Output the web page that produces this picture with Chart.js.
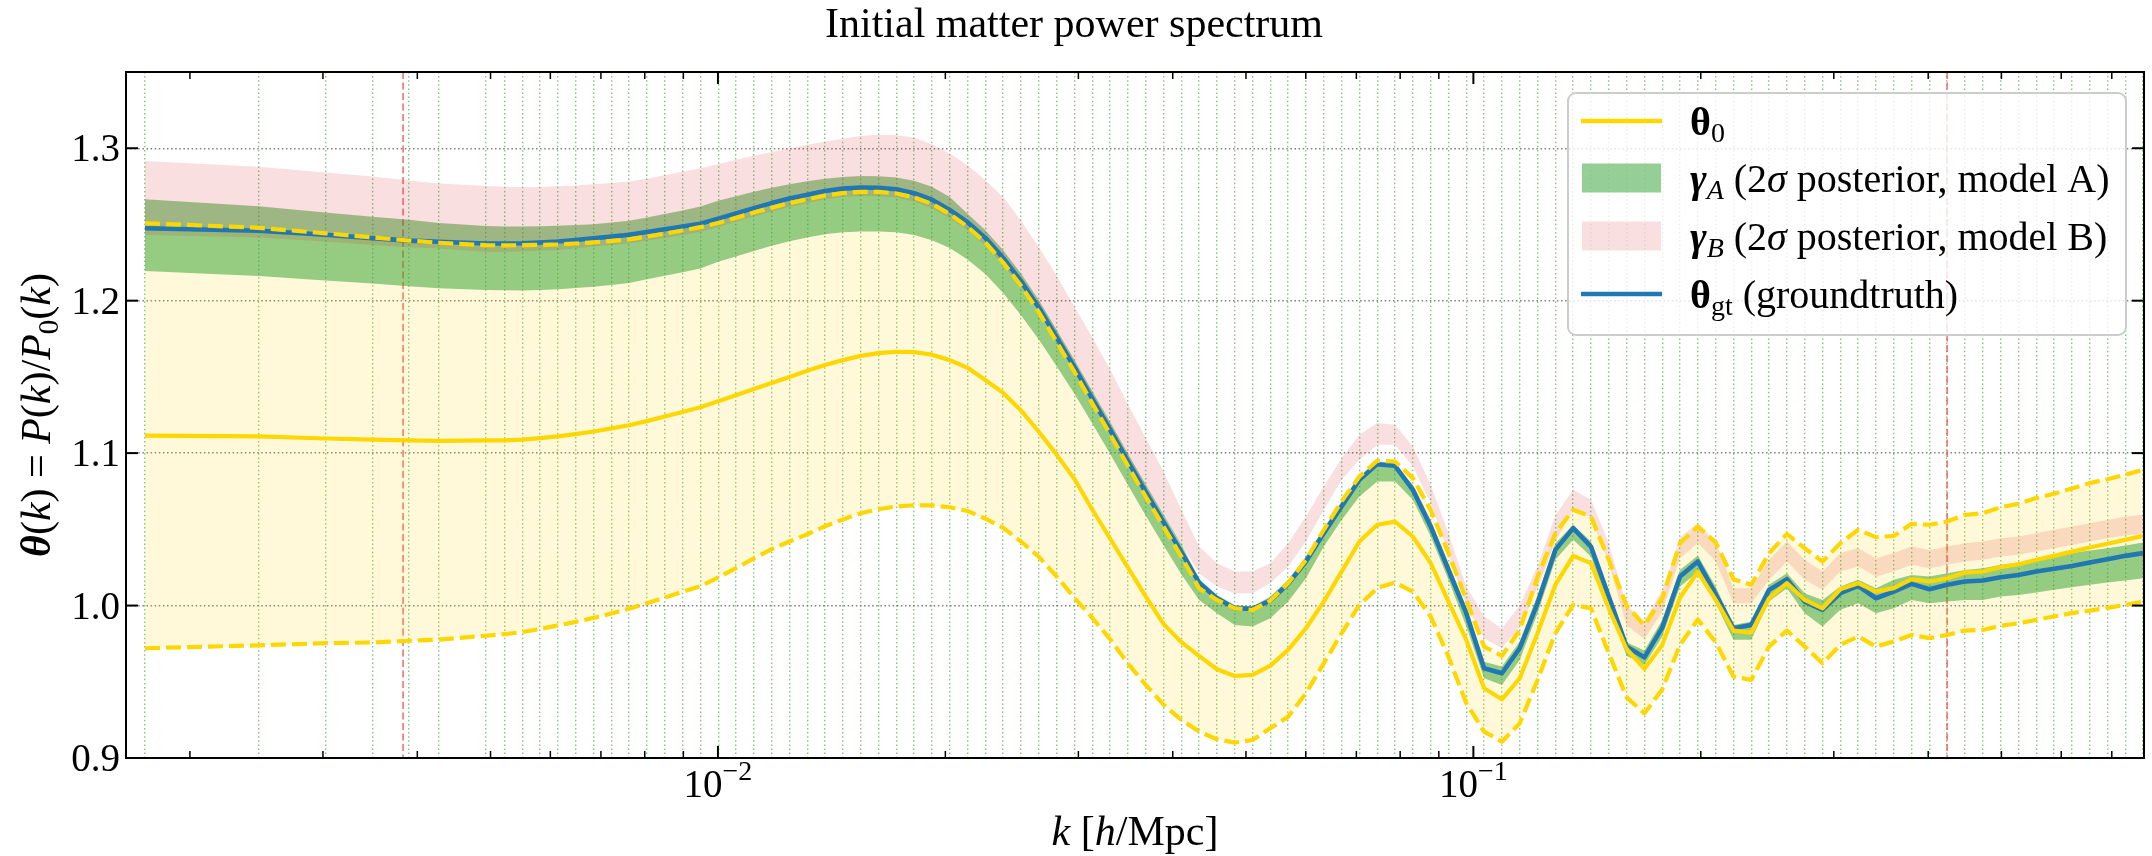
<!DOCTYPE html>
<html>
<head>
<meta charset="utf-8">
<title>Initial matter power spectrum</title>
<script src="https://cdn.jsdelivr.net/npm/chart.js@4.4.1/dist/chart.umd.min.js"></script>
<style>
  html, body { margin: 0; padding: 0; background: #fff; }
  canvas { display: block; }
</style>
</head>
<body>
<canvas id="spectrum" width="2152" height="856"></canvas>
<script>
// k bins [h/Mpc] (one value per green reference line)
const kBins = [
  0.001744, 0.002466, 0.003021, 0.003488, 0.003900, 0.004272,
  0.004933, 0.005217, 0.005508, 0.005815, 0.006139, 0.006482, 0.006843, 0.007225, 0.007628, 0.008054,
  0.008503, 0.008978, 0.009479, 0.010008, 0.010566, 0.011155, 0.011778, 0.012435, 0.013129, 0.013861,
  0.014634, 0.015451, 0.016313, 0.017223, 0.018184, 0.019198, 0.020269, 0.021400, 0.022594, 0.023855,
  0.025186, 0.026591, 0.028074, 0.029641, 0.031294, 0.033040, 0.034884, 0.036830, 0.038885, 0.041054,
  0.043345, 0.045763, 0.048316, 0.051012, 0.053858, 0.056863, 0.060035, 0.063385, 0.066921, 0.070655,
  0.074597, 0.078759, 0.083153, 0.087792, 0.092690, 0.097861, 0.103321, 0.109085, 0.115171, 0.121597,
  0.128381, 0.135543, 0.143105, 0.151089, 0.159519, 0.168419, 0.177815, 0.187735, 0.198209, 0.209268,
  0.220943, 0.233270, 0.246284, 0.260025, 0.274532, 0.289848, 0.306019, 0.323092, 0.341118, 0.360149,
  0.380242, 0.401456, 0.423854, 0.447501, 0.472467, 0.498827, 0.526657, 0.556040, 0.587062, 0.619814,
  0.654394, 0.690903, 0.729449, 0.770146
];

// groundtruth theta_gt
const thetaGT = [
  1.2475, 1.2459, 1.2432, 1.2410, 1.2394, 1.2386,
  1.2375, 1.2375, 1.2377, 1.2382, 1.2388, 1.2398, 1.2410, 1.2420, 1.2432, 1.2450,
  1.2468, 1.2486, 1.2505, 1.2538, 1.2572, 1.2607, 1.2640, 1.2670, 1.2695, 1.2720,
  1.2735, 1.2742, 1.2740, 1.2731, 1.2705, 1.2662, 1.2595, 1.2515, 1.2412, 1.2280,
  1.2128, 1.1955, 1.1760, 1.1563, 1.1357, 1.1155, 1.0947, 1.0745, 1.0548, 1.0352,
  1.0150, 1.0048, 0.9982, 0.9978, 1.0033, 1.0142, 1.0289, 1.0475, 1.0650, 1.0825,
  1.0928, 1.0917, 1.0759, 1.0519, 1.0234, 0.9950, 0.9589, 0.9556, 0.9720, 1.0015,
  1.0365, 1.0508, 1.0387, 1.0059, 0.9731, 0.9660, 0.9855, 1.0190, 1.0289, 1.0075,
  0.9851, 0.9873, 1.0103, 1.0173, 1.0026, 0.9972, 1.0081, 1.0129, 1.0048, 1.0092,
  1.0142, 1.0107, 1.0136, 1.0158, 1.0164, 1.0186, 1.0201, 1.0223, 1.0241, 1.0260,
  1.0282, 1.0304, 1.0326, 1.0344
];

// prior mean theta_0
const theta0 = [
  1.1115, 1.1110, 1.1096, 1.1088, 1.1083, 1.1080,
  1.1083, 1.1084, 1.1088, 1.1098, 1.1110, 1.1125, 1.1142, 1.1162, 1.1183, 1.1210,
  1.1240, 1.1270, 1.1301, 1.1340, 1.1379, 1.1420, 1.1460, 1.1500, 1.1540, 1.1578,
  1.1610, 1.1638, 1.1656, 1.1665, 1.1662, 1.1646, 1.1610, 1.1560, 1.1480, 1.1395,
  1.1280, 1.1140, 1.0990, 1.0830, 1.0630, 1.0440, 1.0250, 1.0060, 0.9880, 0.9760,
  0.9670, 0.9582, 0.9538, 0.9545, 0.9606, 0.9709, 0.9851, 1.0026, 1.0223, 1.0420,
  1.0530, 1.0551, 1.0453, 1.0278, 1.0026, 0.9775, 0.9457, 0.9385, 0.9523, 0.9818,
  1.0136, 1.0326, 1.0278, 0.9982, 0.9715, 0.9585, 0.9742, 1.0053, 1.0221, 1.0037,
  0.9836, 0.9823, 1.0048, 1.0147, 1.0037, 0.9982, 1.0107, 1.0147, 1.0092, 1.0114,
  1.0173, 1.0158, 1.0179, 1.0217, 1.0223, 1.0252, 1.0271, 1.0300, 1.0326, 1.0354,
  1.0381, 1.0405, 1.0431, 1.0457
];

// prior 2-sigma envelope
const priorHi = [
  1.2508, 1.2478, 1.2442, 1.2415, 1.2394, 1.2380,
  1.2364, 1.2363, 1.2364, 1.2366, 1.2369, 1.2375, 1.2383, 1.2392, 1.2402, 1.2420,
  1.2440, 1.2460, 1.2482, 1.2510, 1.2543, 1.2578, 1.2610, 1.2640, 1.2665, 1.2690,
  1.2705, 1.2714, 1.2714, 1.2703, 1.2678, 1.2635, 1.2568, 1.2485, 1.2382, 1.2250,
  1.2098, 1.1925, 1.1730, 1.1533, 1.1327, 1.1125, 1.0917, 1.0715, 1.0518, 1.0322,
  1.0114, 1.0037, 0.9982, 0.9971, 1.0033, 1.0147, 1.0300, 1.0497, 1.0683, 1.0847,
  1.0950, 1.0945, 1.0836, 1.0628, 1.0344, 1.0037, 0.9731, 0.9670, 0.9840, 1.0190,
  1.0475, 1.0628, 1.0584, 1.0300, 1.0000, 0.9870, 1.0048, 1.0410, 1.0519, 1.0415,
  1.0173, 1.0136, 1.0344, 1.0470, 1.0376, 1.0289, 1.0409, 1.0497, 1.0449, 1.0457,
  1.0536, 1.0530, 1.0551, 1.0595, 1.0606, 1.0645, 1.0667, 1.0705, 1.0733, 1.0768,
  1.0803, 1.0829, 1.0858, 1.0891
];
const priorLo = [
  0.9720, 0.9739, 0.9753, 0.9758, 0.9769, 0.9777,
  0.9802, 0.9812, 0.9826, 0.9846, 0.9870, 0.9893, 0.9919, 0.9948, 0.9979, 1.0015,
  1.0052, 1.0090, 1.0126, 1.0185, 1.0245, 1.0310, 1.0370, 1.0420, 1.0468, 1.0520,
  1.0565, 1.0605, 1.0632, 1.0650, 1.0658, 1.0657, 1.0645, 1.0620, 1.0570, 1.0510,
  1.0420, 1.0320, 1.0190, 1.0050, 0.9920, 0.9780, 0.9620, 0.9480, 0.9350, 0.9250,
  0.9173, 0.9123, 0.9101, 0.9118, 0.9195, 0.9271, 0.9425, 0.9621, 0.9818, 1.0004,
  1.0114, 1.0151, 1.0092, 0.9928, 0.9665, 0.9359, 0.9173, 0.9107, 0.9227, 0.9512,
  0.9818, 1.0004, 0.9982, 0.9687, 0.9398, 0.9293, 0.9450, 0.9742, 0.9908, 0.9760,
  0.9534, 0.9512, 0.9731, 0.9836, 0.9731, 0.9621, 0.9742, 0.9797, 0.9731, 0.9764,
  0.9807, 0.9786, 0.9807, 0.9836, 0.9840, 0.9867, 0.9884, 0.9906, 0.9928, 0.9950,
  0.9967, 0.9985, 1.0004, 1.0026
];

// gamma_A: 2-sigma posterior, model A
const gammaALo = [
  1.2195, 1.2162, 1.2132, 1.2113, 1.2094, 1.2081,
  1.2070, 1.2068, 1.2067, 1.2070, 1.2075, 1.2083, 1.2092, 1.2103, 1.2116, 1.2140,
  1.2163, 1.2187, 1.2211, 1.2255, 1.2290, 1.2326, 1.2360, 1.2390, 1.2415, 1.2436,
  1.2448, 1.2454, 1.2453, 1.2449, 1.2430, 1.2397, 1.2345, 1.2270, 1.2175, 1.2050,
  1.1905, 1.1745, 1.1570, 1.1390, 1.1195, 1.0995, 1.0790, 1.0590, 1.0395, 1.0205,
  1.0037, 0.9950, 0.9873, 0.9862, 0.9917, 1.0026, 1.0179, 1.0387, 1.0562, 1.0716,
  1.0814, 1.0814, 1.0694, 1.0453, 1.0169, 0.9862, 0.9523, 0.9479, 0.9643, 0.9950,
  1.0300, 1.0431, 1.0322, 0.9982, 0.9670, 0.9610, 0.9796, 1.0125, 1.0218, 1.0015,
  0.9775, 0.9775, 1.0026, 1.0114, 0.9950, 0.9862, 0.9972, 1.0015, 0.9950, 0.9982,
  1.0037, 1.0015, 1.0026, 1.0037, 1.0037, 1.0059, 1.0070, 1.0085, 1.0103, 1.0120,
  1.0136, 1.0151, 1.0164, 1.0179
];
const gammaAHi = [
  1.2665, 1.2619, 1.2578, 1.2551, 1.2530, 1.2510,
  1.2489, 1.2487, 1.2486, 1.2488, 1.2491, 1.2496, 1.2502, 1.2512, 1.2524, 1.2545,
  1.2568, 1.2592, 1.2617, 1.2655, 1.2685, 1.2714, 1.2740, 1.2763, 1.2783, 1.2800,
  1.2812, 1.2818, 1.2816, 1.2808, 1.2786, 1.2747, 1.2680, 1.2570, 1.2462, 1.2330,
  1.2178, 1.2005, 1.1810, 1.1613, 1.1407, 1.1205, 1.0997, 1.0795, 1.0598, 1.0402,
  1.0175, 1.0070, 1.0004, 0.9993, 1.0059, 1.0169, 1.0322, 1.0508, 1.0683, 1.0847,
  1.0923, 1.0912, 1.0792, 1.0562, 1.0278, 0.9982, 0.9632, 0.9600, 0.9764, 1.0070,
  1.0409, 1.0530, 1.0420, 1.0092, 0.9760, 0.9705, 0.9906, 1.0234, 1.0328, 1.0125,
  0.9873, 0.9895, 1.0136, 1.0212, 1.0081, 1.0037, 1.0125, 1.0169, 1.0114, 1.0169,
  1.0201, 1.0190, 1.0212, 1.0234, 1.0245, 1.0267, 1.0282, 1.0304, 1.0322, 1.0344,
  1.0361, 1.0376, 1.0394, 1.0414
];

// gamma_B: 2-sigma posterior, model B
const gammaBLo = [
  1.2430, 1.2414, 1.2388, 1.2365, 1.2350, 1.2342,
  1.2320, 1.2320, 1.2322, 1.2327, 1.2333, 1.2343, 1.2355, 1.2365, 1.2377, 1.2395,
  1.2413, 1.2431, 1.2450, 1.2483, 1.2517, 1.2552, 1.2585, 1.2615, 1.2640, 1.2665,
  1.2680, 1.2687, 1.2685, 1.2676, 1.2650, 1.2607, 1.2540, 1.2462, 1.2362, 1.2235,
  1.2090, 1.1925, 1.1740, 1.1550, 1.1355, 1.1165, 1.0965, 1.0775, 1.0590, 1.0400,
  1.0212, 1.0125, 1.0081, 1.0081, 1.0147, 1.0256, 1.0420, 1.0628, 1.0825, 1.0956,
  1.1055, 1.1055, 1.0912, 1.0672, 1.0344, 1.0004, 0.9786, 0.9720, 0.9860, 1.0120,
  1.0420, 1.0628, 1.0580, 1.0278, 0.9870, 0.9780, 0.9960, 1.0310, 1.0410, 1.0290,
  1.0015, 1.0015, 1.0169, 1.0289, 1.0169, 1.0103, 1.0223, 1.0256, 1.0190, 1.0223,
  1.0267, 1.0245, 1.0267, 1.0289, 1.0300, 1.0322, 1.0333, 1.0354, 1.0376, 1.0398,
  1.0420, 1.0442, 1.0460, 1.0475
];
const gammaBHi = [
  1.2916, 1.2878, 1.2840, 1.2815, 1.2788, 1.2769,
  1.2753, 1.2748, 1.2744, 1.2745, 1.2750, 1.2755, 1.2763, 1.2772, 1.2782, 1.2800,
  1.2822, 1.2845, 1.2868, 1.2895, 1.2925, 1.2950, 1.2975, 1.3000, 1.3022, 1.3042,
  1.3062, 1.3080, 1.3088, 1.3085, 1.3070, 1.3025, 1.2965, 1.2888, 1.2790, 1.2680,
  1.2525, 1.2350, 1.2165, 1.1960, 1.1760, 1.1550, 1.1320, 1.1100, 1.0880, 1.0630,
  1.0387, 1.0278, 1.0223, 1.0223, 1.0278, 1.0409, 1.0584, 1.0781, 1.0967, 1.1120,
  1.1197, 1.1186, 1.1044, 1.0792, 1.0475, 1.0125, 0.9930, 0.9850, 1.0000, 1.0260,
  1.0590, 1.0759, 1.0694, 1.0410, 1.0000, 0.9900, 1.0100, 1.0450, 1.0540, 1.0420,
  1.0114, 1.0114, 1.0300, 1.0420, 1.0300, 1.0223, 1.0344, 1.0376, 1.0310, 1.0344,
  1.0387, 1.0365, 1.0387, 1.0409, 1.0420, 1.0442, 1.0453, 1.0475, 1.0497, 1.0519,
  1.0540, 1.0562, 1.0584, 1.0595
];

// k cuts (red dashed verticals)
const kCuts = [0.00383, 0.4238];

// axis ticks
const yTicks = [0.9, 1.0, 1.1, 1.2, 1.3];
const yTickLabels = ['0.9', '1.0', '1.1', '1.2', '1.3'];
const xMajorTicks = [0.01, 0.1];
const xMajorExps = ['\u22122', '\u22121'];
const xMinorTicks = [
  0.002, 0.003, 0.004, 0.005, 0.006, 0.007, 0.008, 0.009,
  0.02, 0.03, 0.04, 0.05, 0.06, 0.07, 0.08, 0.09,
  0.2, 0.3, 0.4, 0.5, 0.6, 0.7
];

const GOLD = '#ffd700';
const BLUE = '#1f77b4';
const FILL_PRIOR = 'rgba(255, 215, 0, 0.15)';
const FILL_A = 'rgba(44, 160, 44, 0.5)';
const FILL_B = 'rgba(214, 39, 40, 0.15)';
const SERIF = '"Liberation Serif", "Times New Roman", serif';

function font(size, style) {
  return (style ? style + ' ' : '') + size + 'px ' + SERIF;
}

function runsWidth(ctx, runs) {
  let w = 0;
  for (const r of runs) {
    ctx.font = r.font;
    w += ctx.measureText(r.text).width;
  }
  return w;
}

function drawRuns(ctx, runs, x, y) {
  for (const r of runs) {
    ctx.font = r.font;
    ctx.fillText(r.text, x, y + (r.dy || 0));
    x += ctx.measureText(r.text).width;
  }
  return x;
}

const pts = vals => vals.map((v, i) => ({ x: kBins[i], y: v }));

function band(data, fillTarget, color, order) {
  return {
    data: pts(data),
    borderWidth: 0,
    borderColor: 'transparent',
    backgroundColor: color,
    fill: fillTarget === null ? false : fillTarget,
    order: order
  };
}

function curve(data, color, width, dash, order) {
  return {
    data: pts(data),
    borderColor: color,
    borderWidth: width,
    borderDash: dash,
    borderJoinStyle: 'round',
    fill: false,
    order: order
  };
}

// frame, ticks, cut lines, labels and legend
const decorations = {
  id: 'decorations',
  beforeDatasetsDraw(chart) {
    const { ctx, chartArea: a, scales: { x } } = chart;
    ctx.save();
    ctx.strokeStyle = 'rgba(240, 96, 96, 0.8)';
    ctx.lineWidth = 1.8;
    ctx.setLineDash([7, 3.5]);
    kCuts.forEach(k => {
      const px = x.getPixelForValue(k);
      ctx.beginPath();
      ctx.moveTo(px, a.top);
      ctx.lineTo(px, a.bottom);
      ctx.stroke();
    });
    ctx.restore();
  },
  afterDraw(chart) {
    const { ctx, chartArea: a, scales: { x, y } } = chart;
    ctx.save();

    const seg = (x1, y1, x2, y2) => {
      ctx.beginPath();
      ctx.moveTo(x1, y1);
      ctx.lineTo(x2, y2);
      ctx.stroke();
    };

    ctx.strokeStyle = '#000';
    ctx.lineWidth = 2;
    ctx.strokeRect(a.left, a.top, a.right - a.left, a.bottom - a.top);

    // inward ticks on all four sides
    ctx.lineWidth = 1.5;
    xMinorTicks.forEach(v => {
      const px = x.getPixelForValue(v);
      seg(px, a.bottom, px, a.bottom - 7);
      seg(px, a.top, px, a.top + 7);
    });
    ctx.lineWidth = 2;
    xMajorTicks.forEach(v => {
      const px = x.getPixelForValue(v);
      seg(px, a.bottom, px, a.bottom - 12);
      seg(px, a.top, px, a.top + 12);
    });
    yTicks.forEach(v => {
      const py = y.getPixelForValue(v);
      seg(a.left, py, a.left + 12, py);
      seg(a.right, py, a.right - 12, py);
    });

    // tick labels
    ctx.fillStyle = '#000';
    ctx.textBaseline = 'alphabetic';
    ctx.textAlign = 'right';
    ctx.font = font(39);
    yTicks.forEach((v, i) => {
      ctx.fillText(yTickLabels[i], a.left - 6, y.getPixelForValue(v) + 13);
    });
    ctx.textAlign = 'left';
    xMajorTicks.forEach((v, i) => {
      const runs = [
        { text: '10', font: font(39) },
        { text: xMajorExps[i], font: font(28), dy: -17 }
      ];
      const w = runsWidth(ctx, runs);
      drawRuns(ctx, runs, x.getPixelForValue(v) - w / 2, a.bottom + 39);
    });

    // title
    ctx.textAlign = 'center';
    ctx.font = font(42);
    ctx.fillText('Initial matter power spectrum', chart.width / 2 - 2, 37);
    ctx.textAlign = 'left';

    // x axis title
    const xTitle = [
      { text: 'k', font: font(42, 'italic') },
      { text: ' [', font: font(42) },
      { text: 'h', font: font(42, 'italic') },
      { text: '/Mpc]', font: font(42) }
    ];
    const xw = runsWidth(ctx, xTitle);
    drawRuns(ctx, xTitle, (a.left + a.right) / 2 - xw / 2, a.bottom + 87);

    // y axis title
    const yTitle = [
      { text: '\u03b8', font: font(42, 'italic bold') },
      { text: '(', font: font(42) },
      { text: 'k', font: font(42, 'italic') },
      { text: ') = ', font: font(42) },
      { text: 'P', font: font(42, 'italic') },
      { text: '(', font: font(42) },
      { text: 'k', font: font(42, 'italic') },
      { text: ')/', font: font(42) },
      { text: 'P', font: font(42, 'italic') },
      { text: '0', font: font(29), dy: 8 },
      { text: '(', font: font(42) },
      { text: 'k', font: font(42, 'italic') },
      { text: ')', font: font(42) }
    ];
    const yw = runsWidth(ctx, yTitle);
    ctx.save();
    ctx.translate(50, (a.top + a.bottom) / 2);
    ctx.rotate(-Math.PI / 2);
    drawRuns(ctx, yTitle, -yw / 2, 0);
    ctx.restore();

    // legend
    const L = { x: 1568, y: 93, w: 558, h: 242 };
    ctx.fillStyle = 'rgba(255, 255, 255, 0.8)';
    ctx.strokeStyle = '#cccccc';
    ctx.lineWidth = 2;
    ctx.beginPath();
    ctx.roundRect(L.x, L.y, L.w, L.h, 8);
    ctx.fill();
    ctx.stroke();

    const rows = [121, 178, 236, 294];
    const hx0 = 1581, hx1 = 1662, tx = 1690;
    ctx.lineWidth = 4.4;
    ctx.strokeStyle = GOLD;
    seg(hx0, rows[0], hx1, rows[0]);
    ctx.strokeStyle = BLUE;
    seg(hx0, rows[3], hx1, rows[3]);
    ctx.fillStyle = FILL_A;
    ctx.fillRect(hx0 + 1, rows[1] - 14.5, hx1 - hx0 - 2, 29);
    ctx.fillStyle = FILL_B;
    ctx.fillRect(hx0 + 1, rows[2] - 14.5, hx1 - hx0 - 2, 29);

    ctx.fillStyle = '#000';
    const base = 14;
    drawRuns(ctx, [
      { text: '\u03b8', font: font(40, 'bold') },
      { text: '0', font: font(28), dy: 7 }
    ], tx, rows[0] + base);
    ['A', 'B'].forEach((m, i) => {
      drawRuns(ctx, [
        { text: '\u03b3', font: font(40, 'italic bold') },
        { text: m, font: font(28, 'italic'), dy: 7 },
        { text: ' (2', font: font(40) },
        { text: '\u03c3', font: font(40, 'italic') },
        { text: ' posterior, model ' + m + ')', font: font(40) }
      ], tx, rows[1 + i] + base);
    });
    drawRuns(ctx, [
      { text: '\u03b8', font: font(40, 'bold') },
      { text: 'gt', font: font(28), dy: 7 },
      { text: ' (groundtruth)', font: font(40) }
    ], tx, rows[3] + base);

    ctx.restore();
  }
};

new Chart(document.getElementById('spectrum'), {
  type: 'line',
  data: {
    datasets: [
      band(priorLo, null, 'transparent', 9),
      band(priorHi, 0, FILL_PRIOR, 8),
      band(gammaALo, null, 'transparent', 7),
      band(gammaAHi, 2, FILL_A, 6),
      band(gammaBLo, null, 'transparent', 5),
      band(gammaBHi, 4, FILL_B, 4),
      curve(thetaGT, BLUE, 4.6, [], 3),
      curve(theta0, GOLD, 4.2, [], 2),
      curve(priorHi, GOLD, 4.2, [15, 6], 1),
      curve(priorLo, GOLD, 4.2, [15, 6], 0)
    ]
  },
  options: {
    responsive: false,
    devicePixelRatio: 1,
    animation: false,
    layout: { padding: { left: 126, right: 8, top: 72, bottom: 98 } },
    elements: { point: { radius: 0, hoverRadius: 0 }, line: { tension: 0 } },
    plugins: {
      legend: { display: false },
      title: { display: false },
      tooltip: { enabled: false }
    },
    scales: {
      x: {
        type: 'logarithmic',
        min: 0.001646,
        max: 0.7722,
        bounds: 'data',
        afterBuildTicks: s => { s.ticks = kBins.map(v => ({ value: v })); },
        ticks: { display: false, autoSkip: false },
        grid: { color: 'rgba(44, 160, 44, 0.6)', lineWidth: 1.4, drawTicks: false },
        border: { display: false, dash: [1.5, 2.6] }
      },
      y: {
        min: 0.9,
        max: 1.35,
        bounds: 'data',
        afterBuildTicks: s => { s.ticks = yTicks.map(v => ({ value: v })); },
        ticks: { display: false },
        grid: { color: 'rgba(105, 105, 105, 0.85)', lineWidth: 1.4, drawTicks: false },
        border: { display: false, dash: [1.5, 2.6] }
      }
    }
  },
  plugins: [decorations]
});
</script>
</body>
</html>
